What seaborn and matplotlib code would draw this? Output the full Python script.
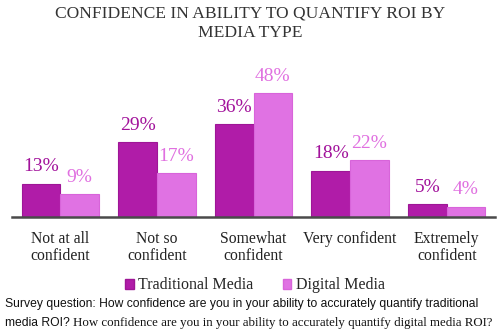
import matplotlib
matplotlib.use("Agg")
import matplotlib.pyplot as plt
import seaborn as sns
import pandas as pd
from matplotlib.patches import Patch

categories = ["Not at all\nconfident", "Not so\nconfident", "Somewhat\nconfident",
              "Very confident", "Extremely\nconfident"]
traditional = [13, 29, 36, 18, 5]
digital = [9, 17, 48, 22, 4]
series = ["Traditional Media", "Digital Media"]

colors = {"Traditional Media": "#B01CA8", "Digital Media": "#E072E3"}
edges = {"Traditional Media": "#9E1696", "Digital Media": "#D864DA"}
label_colors = {"Traditional Media": "#A2129B", "Digital Media": "#E070E0"}

df = pd.DataFrame({
    "category": categories * 2,
    "media": [series[0]] * len(categories) + [series[1]] * len(categories),
    "value": traditional + digital,
})

sns.set_theme(style="white")
plt.rcParams["font.family"] = ["Liberation Serif", "DejaVu Serif"]

fig = plt.figure(figsize=(5.0, 3.35), dpi=100)
ax = fig.add_axes([0.024, 0.352, 0.966, 0.385])

sns.barplot(data=df, x="category", y="value", hue="media", order=categories,
            hue_order=series, palette=colors, width=0.8, saturation=1,
            legend=False, ax=ax)

for container, name in zip(ax.containers, series):
    for bar in container:
        bar.set_edgecolor(edges[name])
        bar.set_linewidth(0.8)
    ax.bar_label(container, labels=[f"{v:.0f}%" for v in container.datavalues],
                 padding=6, color=label_colors[name], fontsize=14)

ax.set_xlim(-0.5, 4.5)
ax.set_ylim(0, 50)
ax.set_xlabel("")
ax.set_ylabel("")
ax.set_yticks([])
ax.tick_params(axis="x", length=0, pad=10, labelsize=11.3, labelcolor="#222222")
for lbl in ax.get_xticklabels():
    lbl.set_linespacing(1.05)
for side in ["top", "left", "right"]:
    ax.spines[side].set_visible(False)
ax.spines["bottom"].set_color("#4a4a4a")
ax.spines["bottom"].set_linewidth(1.8)

fig.text(0.5, 0.985, "CONFIDENCE IN ABILITY TO QUANTIFY ROI BY\nMEDIA TYPE",
         ha="center", va="top", fontsize=12.6, color="#333333", linespacing=1.3)

handles = [Patch(facecolor=colors[s], edgecolor=edges[s]) for s in series]
fig.legend(handles, series, loc="center", bbox_to_anchor=(0.51, 0.148),
           ncol=2, frameon=False, fontsize=11.5, handlelength=0.55, handleheight=0.55,
           handletextpad=0.3, columnspacing=1.8)

fig.text(0.01, 0.093, "Survey question: How confidence are you in your ability to accurately quantify traditional",
         ha="left", va="center", fontsize=8.75, family=["Liberation Sans", "DejaVu Sans"],
         color="#111111")
t1 = fig.text(0.01, 0.036, "media ROI? ", ha="left", va="center", fontsize=8.75,
              family=["Liberation Sans", "DejaVu Sans"], color="#111111")
fig.canvas.draw()
bb = t1.get_window_extent()
x2 = fig.transFigure.inverted().transform((bb.x1, bb.y0))[0]
fig.text(x2, 0.036, "How confidence are you in your ability to accurately quantify digital media ROI?",
         ha="left", va="center", fontsize=9.3, color="#111111")

fig.savefig("out.png", dpi=100)
